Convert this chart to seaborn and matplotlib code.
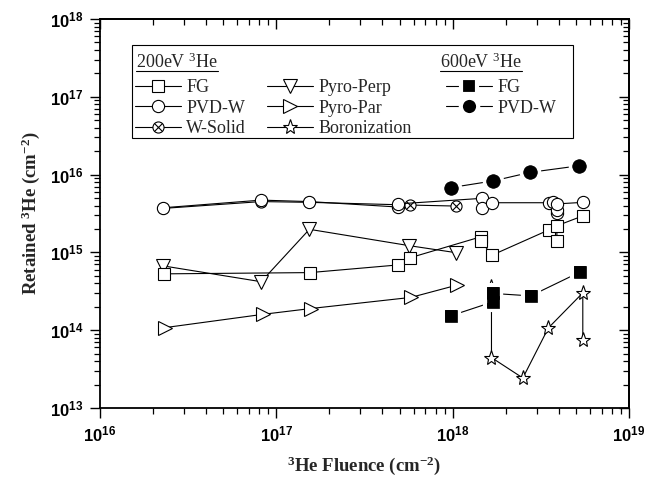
import matplotlib
matplotlib.use("Agg")
import numpy as np
import pandas as pd
import seaborn as sns
import matplotlib.pyplot as plt
from matplotlib.lines import Line2D
from matplotlib.patches import Rectangle
from matplotlib.legend_handler import HandlerTuple
from matplotlib.transforms import IdentityTransform

# 200 eV 3He
fg_x = [2.3e16, 1.55e17, 4.9e17, 5.7e17, 1.45e18, 1.45e18, 1.67e18, 3.5e18, 3.9e18, 3.9e18, 5.5e18]
fg_y = [5.3e14, 5.5e14, 6.9e14, 8.5e14, 1.59e15, 1.39e15, 9.2e14, 1.94e15, 1.4e15, 2.2e15, 2.96e15]

pvd_x = [2.29e16, 8.2e16, 1.54e17, 4.9e17, 4.9e17, 1.46e18, 1.46e18, 1.67e18,
         3.5e18, 3.73e18, 3.9e18, 3.9e18, 3.9e18, 5.5e18]
pvd_y = [3.75e15, 4.7e15, 4.5e15, 3.83e15, 4.2e15, 4.95e15, 3.75e15, 4.35e15,
         4.35e15, 4.4e15, 3.18e15, 3.5e15, 4.2e15, 4.4e15]

wsolid_x = [2.29e16, 8.2e16, 1.54e17, 5.73e17, 1.05e18]
wsolid_y = [3.68e15, 4.5e15, 4.4e15, 4.06e15, 3.94e15]

perp_x = [2.29e16, 8.2e16, 1.54e17, 5.68e17, 1.05e18]
perp_y = [6.7e14, 4.2e14, 1.98e15, 1.22e15, 9.9e14]

par_x = [2.34e16, 8.4e16, 1.57e17, 5.8e17, 1.06e18]
par_y = [1.08e14, 1.6e14, 1.9e14, 2.64e14, 3.8e14]

boron_x = [1.66e18, 1.66e18, 2.5e18, 3.49e18, 5.47e18, 5.47e18]
boron_y = [3.6e14, 4.45e13, 2.43e13, 1.07e14, 3.02e14, 7.4e13]

# 600 eV 3He
fg600_x = [9.75e17, 1.69e18, 1.69e18, 2.77e18, 5.28e18]
fg600_y = [1.53e14, 2.31e14, 2.97e14, 2.76e14, 5.6e14]

pvd600_x = [9.75e17, 1.7e18, 2.76e18, 5.23e18]
pvd600_y = [6.8e15, 8.3e15, 1.07e16, 1.30e16]

x_ticks = [1e16, 1e17, 1e18, 1e19]
x_ticklabels = [r'$10^{16}$', r'$10^{17}$', r'$10^{18}$', r'$10^{19}$']
y_ticks = [1e13, 1e14, 1e15, 1e16, 1e17, 1e18]
y_ticklabels = [r'$10^{13}$', r'$10^{14}$', r'$10^{15}$', r'$10^{16}$', r'$10^{17}$', r'$10^{18}$']

sns.set_style("ticks")
plt.rcParams['font.family'] = ['Liberation Serif', 'DejaVu Serif']
plt.rcParams['mathtext.default'] = 'regular'
plt.rcParams['axes.edgecolor'] = 'black'
plt.rcParams['xtick.color'] = 'black'
plt.rcParams['ytick.color'] = 'black'

fig = plt.figure(figsize=(6.48, 4.84), dpi=100)
ax = fig.add_axes([100 / 648, 1 - 408 / 484, 529 / 648, 389 / 484])
ax.set_xscale('log')
ax.set_yscale('log')

lw = 0.8
open_kw = dict(color='black', lw=lw, mfc='white', mec='black', mew=0.8)
fill_kw = dict(color='black', lw=lw, mfc='black', mec='white', mew=3)

styles = {
    'fg': dict(marker='s', ms=8, **open_kw),
    'pvd': dict(marker='o', ms=8.8, **open_kw),
    'wsolid': dict(marker='o', ms=8, **open_kw),
    'perp': dict(marker='v', ms=10, **open_kw),
    'par': dict(marker='>', ms=10, **open_kw),
    'boron': dict(marker='*', ms=11, **open_kw),
    'fg600': dict(marker='s', ms=11, **fill_kw),
    'pvd600': dict(marker='o', ms=12.5, **fill_kw),
}
xcross = dict(marker='x', ms=5.5, color='black', mec='black', mew=0.8, linestyle='')

def draw(xs, ys, kw):
    sns.lineplot(x=xs, y=ys, sort=False, estimator=None, ax=ax, **kw)

draw(par_x, par_y, styles['par'])
draw(perp_x, perp_y, styles['perp'])
draw(fg_x, fg_y, styles['fg'])
draw(wsolid_x, wsolid_y, styles['wsolid'])
draw(wsolid_x, wsolid_y, xcross)
draw(pvd_x, pvd_y, styles['pvd'])
draw(boron_x, boron_y, styles['boron'])
draw(fg600_x, fg600_y, styles['fg600'])
draw(pvd600_x, pvd600_y, styles['pvd600'])
# solid markers again on top, so overlapping ones merge and only the lines keep the gap
draw(fg600_x, fg600_y, dict(marker='s', ms=8.4, color='black', mfc='black', mec='black',
                            mew=0.5, linestyle=''))
draw(pvd600_x, pvd600_y, dict(marker='o', ms=9.8, color='black', mfc='black', mec='black',
                              mew=0.5, linestyle=''))

ax.set_xlim(1e16, 1e19)
ax.set_ylim(1e13, 1e18)
tick_font = dict(fontfamily='Liberation Sans', fontweight='bold', fontsize=12)
ax.set_xticks(x_ticks, labels=x_ticklabels, **tick_font)
ax.set_yticks(y_ticks, labels=y_ticklabels, **tick_font)
ax.tick_params(which='both', direction='out', top=False, right=False, width=1, pad=5)
ax.tick_params(which='major', length=7)
ax.tick_params(which='minor', length=4, width=0.9)
for s in ax.spines.values():
    s.set_linewidth(1.3)

secx = ax.secondary_xaxis('top')
secy = ax.secondary_yaxis('right')
for sec in (secx, secy):
    sec.tick_params(which='both', direction='in', labeltop=False, labelright=False,
                    labelbottom=False, labelleft=False, width=1)
    sec.tick_params(which='major', length=7)
    sec.tick_params(which='minor', length=4, width=0.9)
    for s in sec.spines.values():
        s.set_linewidth(1.3)

ax.set_xlabel(r'$^{3}$He Fluence (cm$^{-2}$)', fontsize=13.5, fontweight='bold', labelpad=7)
ax.set_ylabel(r'Retained $^{3}$He (cm$^{-2}$)', fontsize=13.5, fontweight='bold', labelpad=6)

# legend
def handle(key):
    return Line2D([], [], **styles[key])

ws_handle = (handle('wsolid'), Line2D([], [], **xcross))
leg_kw = dict(loc='upper left', frameon=False, fontsize=13, handlelength=2.55,
              handletextpad=0.3, labelspacing=0.2, borderpad=0, borderaxespad=0,
              handler_map={tuple: HandlerTuple(ndivide=1)})
leg_top = 0.846
leg1 = ax.legend([handle('fg'), handle('pvd'), ws_handle], ['FG', 'PVD-W', 'W-Solid'],
                 bbox_to_anchor=(0.0662, leg_top), **leg_kw)
ax.add_artist(leg1)
leg2 = ax.legend([handle('perp'), handle('par'), handle('boron')],
                 ['Pyro-Perp', 'Pyro-Par', 'Boronization'],
                 bbox_to_anchor=(0.3150, leg_top), **leg_kw)
ax.add_artist(leg2)
leg3 = ax.legend([handle('fg600'), handle('pvd600')], ['FG', 'PVD-W'],
                 bbox_to_anchor=(0.654, leg_top), **leg_kw)

ax.add_patch(Rectangle((0.0599, 0.695), 0.894 - 0.0599, 0.933 - 0.695, transform=ax.transAxes,
                       fill=False, ec='black', lw=0.8, zorder=5))

h1 = ax.text(0.068, 0.874, r'200eV $^{3}$He', transform=ax.transAxes, fontsize=13, va='baseline')
h3 = ax.text(0.643, 0.874, r'600eV $^{3}$He', transform=ax.transAxes, fontsize=13, va='baseline')

fig.canvas.draw()
renderer = fig.canvas.get_renderer()
for t in (h1, h3):
    bb = t.get_window_extent(renderer)
    base = ax.transAxes.transform(t.get_position())[1]
    fig.add_artist(Line2D([bb.x0, bb.x1], [base - 2.5, base - 2.5], color='black', lw=0.8,
                          transform=IdentityTransform()))

fig.savefig('out.png', dpi=100)
